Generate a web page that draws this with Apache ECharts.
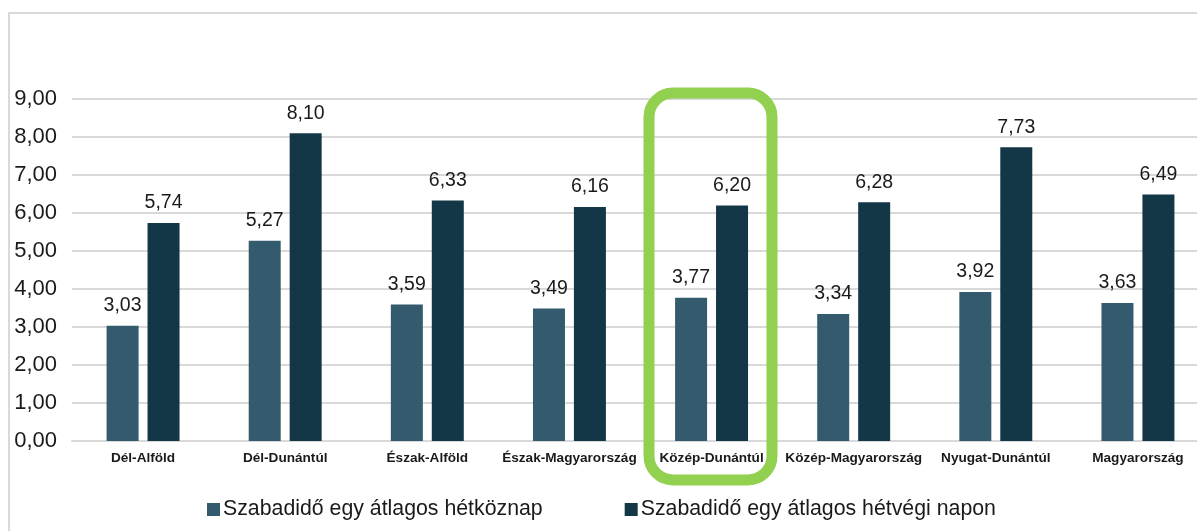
<!DOCTYPE html>
<html>
<head>
<meta charset="utf-8">
<script src="https://cdn.jsdelivr.net/npm/echarts@6/dist/echarts.min.js"></script>
<style>
  html, body { margin: 0; padding: 0; background: #fff; }
  #chart { width: 1197px; height: 531px; }
</style>
</head>
<body>
<div id="chart"></div>
<script>
// régiók
var regions = ['Dél-Alföld', 'Dél-Dunántúl', 'Észak-Alföld', 'Észak-Magyarország',
    'Közép-Dunántúl', 'Közép-Magyarország', 'Nyugat-Dunántúl', 'Magyarország'];
var weekday = [3.03, 5.27, 3.59, 3.49, 3.77, 3.34, 3.92, 3.63];
var weekend = [5.74, 8.10, 6.33, 6.16, 6.20, 6.28, 7.73, 6.49];
var seriesNames = ['Szabadidő egy átlagos hétköznap', 'Szabadidő egy átlagos hétvégi napon'];

function fmt(v) {
    return Number(v).toFixed(2).replace('.', ',');
}

var chart = echarts.init(document.getElementById('chart'));

var option = {
    animation: false,
    textStyle: { fontFamily: 'Liberation Sans, Arial, sans-serif' },
    grid: {
        left: 72,
        width: 1137,
        top: 99,
        bottom: 90,
        containLabel: false,
        outerBoundsMode: 'none'
    },
    legend: {
        left: 202,
        top: 494,
        itemWidth: 13,
        itemHeight: 13,
        itemGap: 82,
        icon: 'rect',
        textStyle: { fontSize: 21.3, color: '#1a1a1a', padding: [0, 0, 0, -2] },
        data: seriesNames
    },
    xAxis: {
        type: 'category',
        data: regions,
        axisLine: { show: true, lineStyle: { color: '#d9d9d9', width: 2 } },
        axisTick: { show: false },
        axisLabel: {
            interval: 0,
            fontSize: 13.6,
            fontWeight: 'bold',
            color: '#1a1a1a',
            margin: 10
        }
    },
    yAxis: {
        type: 'value',
        min: 0,
        max: 9,
        interval: 1,
        axisLine: { show: false },
        axisTick: { show: false },
        splitLine: { lineStyle: { color: '#d9d9d9', width: 2 } },
        axisLabel: {
            fontSize: 22,
            color: '#1a1a1a',
            margin: 15,
            formatter: fmt
        }
    },
    series: [
        {
            name: seriesNames[0],
            type: 'bar',
            barWidth: 32,
            barGap: '28%',
            itemStyle: { color: '#335b6d' },
            label: {
                show: true,
                position: 'top',
                distance: 10,
                fontSize: 19.5,
                color: '#1a1a1a',
                formatter: function (p) { return fmt(p.value); }
            },
            data: weekday
        },
        {
            name: seriesNames[1],
            type: 'bar',
            barWidth: 32,
            itemStyle: { color: '#133747' },
            label: {
                show: true,
                position: 'top',
                distance: 10,
                fontSize: 19.5,
                color: '#1a1a1a',
                formatter: function (p) { return fmt(p.value); }
            },
            data: weekend
        }
    ],
    graphic: [
        {
            type: 'rect',
            silent: true,
            shape: { x: 9, y: 13, width: 1210, height: 540 },
            style: { fill: 'none', stroke: '#d9d9d9', lineWidth: 2 }
        },
        {
            type: 'rect',
            silent: true,
            z: 10,
            shape: { x: 649, y: 93, width: 123, height: 387, r: 24 },
            style: { fill: 'none', stroke: '#92d050', lineWidth: 11 }
        }
    ]
};

chart.setOption(option);
</script>
</body>
</html>
